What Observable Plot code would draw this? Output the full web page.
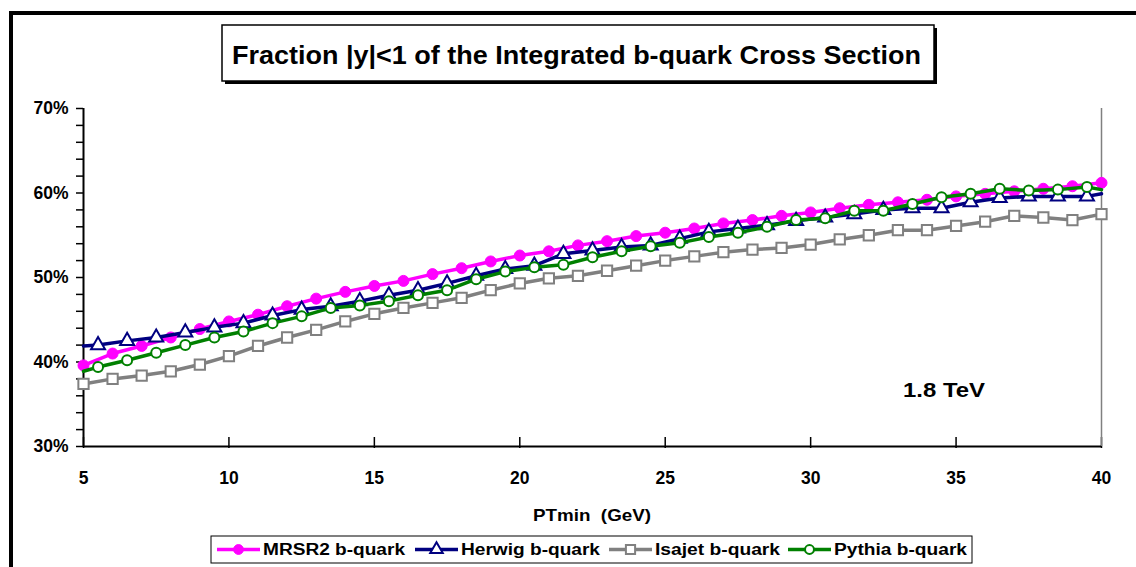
<!DOCTYPE html>
<html><head><meta charset="utf-8">
<script src="https://cdn.jsdelivr.net/npm/d3@7"></script>
<script src="https://cdn.jsdelivr.net/npm/@observablehq/plot@0.6"></script>
<style>html,body{margin:0;padding:0;background:#fff;overflow:hidden}</style>
</head><body><div id="chart"></div>
<script>
// ---- data (values in %) ----
const xWhole = [5,6,7,8,9,10,11,12,13,14,15,16,17,18,19,20,21,22,23,24,25,26,27,28,29,30,31,32,33,34,35,36,37,38,39,40];
const xHalf = [5,5.5,6.5,7.5,8.5,9.5,10.5,11.5,12.5,13.5,14.5,15.5,16.5,17.5,18.5,19.5,20.5,21.5,22.5,23.5,24.5,25.5,26.5,27.5,28.5,29.5,30.5,31.5,32.5,33.5,34.5,35.5,36.5,37.5,38.5,39.5,40];
const mrsr2 = [39.6,41.0,41.9,42.9,43.9,44.8,45.6,46.6,47.5,48.3,49.0,49.6,50.4,51.1,51.9,52.6,53.1,53.8,54.3,54.9,55.3,55.8,56.4,56.8,57.3,57.7,58.2,58.6,58.9,59.2,59.6,59.9,60.2,60.5,60.8,61.2];
const isajet = [37.4,38.0,38.4,38.9,39.7,40.7,41.9,42.9,43.8,44.8,45.7,46.4,47.0,47.6,48.5,49.3,49.9,50.2,50.8,51.4,52.0,52.5,53.0,53.3,53.5,53.9,54.5,55.0,55.6,55.6,56.1,56.6,57.3,57.1,56.8,57.5];
const herwig = [41.9,42.0,42.5,42.9,43.5,44.1,44.6,45.5,46.2,46.6,47.2,47.9,48.5,49.3,50.2,51.0,51.4,52.8,53.2,53.6,53.8,54.6,55.4,55.8,56.2,56.7,57.1,57.5,58.0,58.2,58.2,58.9,59.4,59.6,59.6,59.6,59.9];
const pythia = [38.9,39.4,40.2,41.1,42.0,42.9,43.6,44.6,45.4,46.4,46.7,47.2,47.9,48.5,49.8,50.7,51.2,51.5,52.4,53.1,53.7,54.1,54.8,55.3,56.0,56.8,57.0,57.9,57.9,58.7,59.5,59.9,60.5,60.3,60.4,60.7,60.4];
const seriesNames = ["MRSR2 b-quark","Herwig b-quark","Isajet b-quark","Pythia b-quark"];
const xTicks = [5,10,15,20,25,30,35,40];
const yTicks = [30,32,34,36,38,40,42,44,46,48,50,52,54,56,58,60,62,64,66,68,70];
const title = "Fraction |y|<1 of the Integrated b-quark Cross Section";
const xLabel = "PTmin  (GeV)";
const note = "1.8 TeV";

// ---- styles ----
const styles = [
  {stroke:"#FF00FF", fill:"#FF00FF", symbol:"circle", r:5.5, lw:3.5, mw:1},
  {stroke:"#000080", fill:"#FFFFFF", symbol:"triangle", r:5.2, lw:3.5, mw:2},
  {stroke:"#808080", fill:"#FFFFFF", symbol:"square", r:5.8, lw:3.5, mw:2},
  {stroke:"#008000", fill:"#FFFFFF", symbol:"circle", r:5, lw:3.5, mw:2}
];
const toRows = (xs, ys) => xs.map((x,i) => ({x, y: ys[i]}));
const data = [toRows(xWhole, mrsr2), toRows(xHalf, herwig), toRows(xWhole, isajet), toRows(xHalf, pythia)];

const marks = [
  Plot.axisY({ticks: yTicks, tickSize: 7, tickPadding: 8, label: null, fontSize: 17.5, fontWeight: "bold",
    tickFormat: d => d % 10 === 0 ? d + "%" : "", stroke: "black", strokeWidth: 1.5}),
  Plot.axisX({ticks: xTicks, tickSize: 0, tickPadding: 25, label: null, fontSize: 17.5, fontWeight: "bold", tickFormat: d => String(d)}),
  Plot.axisX({ticks: xTicks, tickSize: 11, label: null, tickFormat: () => "", dy: -9, stroke: "black", strokeWidth: 1.5}),
  Plot.ruleX([40], {stroke: "#808080", strokeWidth: 1.5}),
  Plot.ruleY([30], {stroke: "black", strokeWidth: 2}),
  Plot.ruleX([5], {stroke: "black", strokeWidth: 2})
];
data.forEach((rows, i) => {
  const s = styles[i];
  marks.push(Plot.line(rows, {x: "x", y: "y", stroke: s.stroke, strokeWidth: s.lw, strokeLinejoin: "round"}));
  marks.push(Plot.dot(rows, {x: "x", y: "y", filter: d => (i === 0 || i === 2) ? true : !Number.isInteger(d.x),
    symbol: s.symbol, r: s.r, fill: s.fill, stroke: s.stroke, strokeWidth: s.mw}));
});

const chart = Plot.plot({
  width: 1136, height: 567,
  marginLeft: 83, marginRight: 35, marginTop: 108, marginBottom: 121,
  style: {fontFamily: "Arial, 'Liberation Sans', sans-serif", fontSize: "17.5px", fontWeight: "bold", color: "black", background: "white"},
  x: {domain: [5, 40]},
  y: {domain: [30, 70]},
  marks
});
document.getElementById("chart").appendChild(chart);

// ---- annotations ----
const svg = d3.select(chart);
const font = "Arial, 'Liberation Sans', sans-serif";
const addText = (x, y, str, size, len, anchor) => {
  const t = svg.append("text").attr("x", x).attr("y", y).attr("text-anchor", anchor || "start")
    .attr("dominant-baseline", "central").attr("font-family", font).attr("font-weight", "bold")
    .attr("font-size", size).attr("fill", "black").attr("xml:space", "preserve")
    .style("white-space", "pre").text(str);
  if (len) t.attr("textLength", len).attr("lengthAdjust", "spacingAndGlyphs");
  return t;
};
// outer frame
svg.insert("rect", ":first-child").attr("x", 11).attr("y", 13).attr("width", 1200).attr("height", 700)
  .attr("fill", "none").attr("stroke", "black").attr("stroke-width", 4);
// title box with shadow
svg.append("rect").attr("x", 225).attr("y", 28).attr("width", 712).attr("height", 56).attr("fill", "black");
svg.append("rect").attr("x", 222).attr("y", 25).attr("width", 712).attr("height", 56).attr("fill", "white").attr("stroke", "black").attr("stroke-width", 1.5);
addText(232, 55, title, 25, 689);
// x axis title
addText(533, 515, xLabel, 17, 118);
// note
addText(903, 390, note, 20, 82);
// legend
svg.append("rect").attr("x", 211).attr("y", 536).attr("width", 761).attr("height", 27).attr("fill", "white").attr("stroke", "black").attr("stroke-width", 1);
const legX = [217, 415, 609, 788];
const legLen = [142, 139, 125, 133];
const symMap = {circle: d3.symbolCircle, triangle: d3.symbolTriangle, square: d3.symbolSquare};
seriesNames.forEach((name, i) => {
  const s = styles[i], x0 = legX[i], cy = 549.5;
  const g = svg.append("g");
  g.append("line").attr("x1", x0).attr("x2", x0 + 43).attr("y1", cy).attr("y2", cy).attr("stroke", s.stroke).attr("stroke-width", s.lw);
  g.append("path").attr("transform", `translate(${x0 + 21.5},${cy})`)
    .attr("d", d3.symbol(symMap[s.symbol], Math.PI * s.r * s.r * 0.8)())
    .attr("fill", s.fill).attr("stroke", s.stroke).attr("stroke-width", s.mw);
  addText(x0 + 46, cy, name, 16, legLen[i]);
});
</script>
</body></html>
